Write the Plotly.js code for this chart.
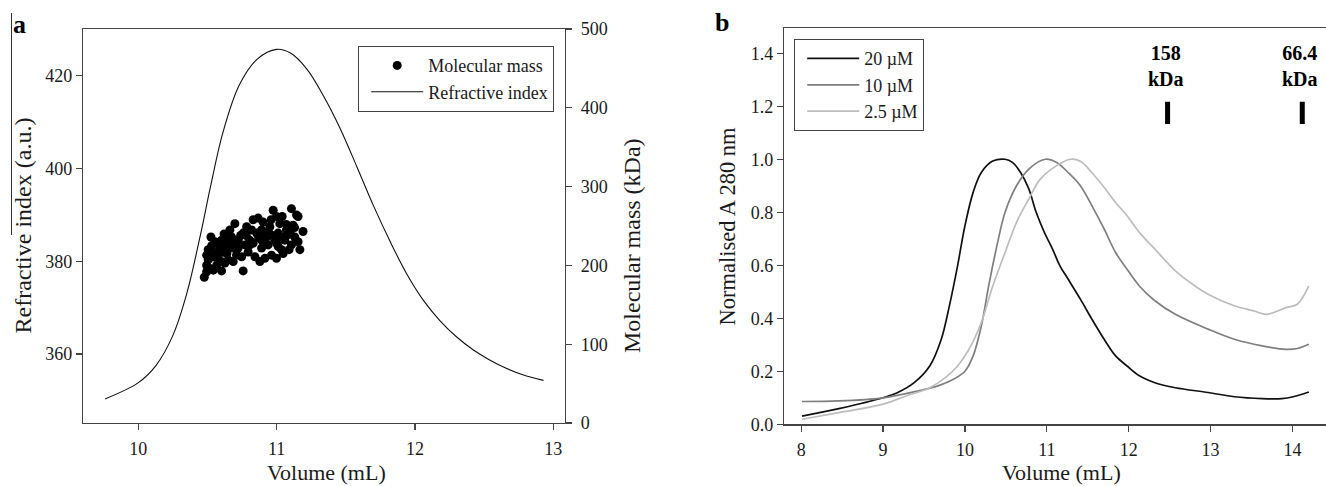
<!DOCTYPE html>
<html>
<head>
<meta charset="utf-8">
<script src="https://cdn.plot.ly/plotly-3.0.1.min.js"></script>
<style>html,body{margin:0;padding:0;background:#fff;}#chart{width:1326px;height:486px;}</style>
</head>
<body>
<div id="chart"></div>
<script>
// ---------- Panel a : refractive index trace ----------
const riVolume = [9.76, 10.0, 10.13, 10.25, 10.35, 10.45, 10.52, 10.61, 10.73, 10.86, 11.0, 11.1, 11.22, 11.34, 11.46, 11.58, 11.7, 11.82, 11.94, 12.06, 12.18, 12.3, 12.42, 12.54, 12.66, 12.78, 12.93];
const riSignal = [350.3, 353.8, 357.6, 364.0, 373.0, 385.8, 395.8, 407.6, 418.0, 423.6, 425.7, 424.9, 421.4, 415.6, 408.6, 400.4, 392.0, 384.3, 377.3, 371.6, 367.2, 363.7, 360.9, 358.7, 356.9, 355.5, 354.3];

// ---------- Panel a : molecular mass points ----------
const mmVolume = [10.477, 10.494, 10.518, 10.542, 10.602, 10.505, 10.525, 10.554, 10.578, 10.602, 10.638, 10.662, 10.698, 10.674, 10.65, 10.614, 10.578, 10.542, 10.686, 10.758, 10.747, 10.722, 10.77, 10.806, 10.83, 10.866, 10.902, 10.819, 10.855, 10.794, 10.843, 10.891, 10.927, 10.951, 10.975, 10.999, 11.023, 10.987, 10.963, 10.999, 11.035, 11.059, 11.071, 11.107, 11.144, 11.119, 11.191, 11.168, 11.107, 11.131, 11.047, 10.915, 10.879, 10.65, 10.71, 10.626, 10.566, 10.59, 10.626, 10.722, 10.758, 10.783, 10.891, 10.939, 11.011, 11.083, 11.155, 11.011, 10.891, 10.505, 10.494, 10.53, 10.494, 11.155,
                  10.56, 10.60, 10.64, 10.68, 10.70, 10.74, 10.78, 10.80, 10.83, 10.87, 10.90, 10.94, 10.97, 11.00, 11.04, 11.07, 11.10, 11.13, 11.09, 10.53, 10.62, 10.66, 10.96, 11.04];
const mmKDa = [185, 192, 196, 194, 193, 207, 236, 230, 228, 232, 239, 245, 253, 236, 224, 217, 213, 217, 205, 193, 211, 222, 226, 232, 258, 260, 255, 245, 241, 217, 211, 222, 236, 249, 270, 262, 253, 232, 213, 209, 220, 232, 245, 272, 264, 251, 243, 220, 226, 236, 215, 209, 205, 207, 213, 203, 200, 222, 228, 232, 241, 249, 245, 226, 241, 239, 230, 224, 232, 220, 213, 211, 200, 262,
               210, 205, 215, 222, 230, 238, 238, 225, 228, 235, 240, 243, 238, 228, 236, 252, 240, 248, 220, 225, 240, 233, 258, 262];

// ---------- Panel b : normalised A280 ----------
const vol20 = [8.01, 8.46, 9.0, 9.18, 9.38, 9.57, 9.71, 9.81, 9.91, 10.0, 10.1, 10.2, 10.34, 10.49, 10.58, 10.68, 10.78, 10.87, 10.97, 11.07, 11.16, 11.26, 11.41, 11.55, 11.7, 11.84, 11.98, 12.13, 12.32, 12.57, 12.97, 13.29, 13.63, 13.87, 14.01, 14.2];
const abs20 = [0.031, 0.059, 0.10, 0.12, 0.157, 0.22, 0.32, 0.447, 0.598, 0.749, 0.875, 0.95, 0.993, 1.0, 0.988, 0.95, 0.888, 0.80, 0.724, 0.661, 0.598, 0.548, 0.472, 0.397, 0.321, 0.258, 0.22, 0.183, 0.157, 0.138, 0.12, 0.104, 0.097, 0.097, 0.104, 0.122];
const vol10 = [8.01, 8.46, 9.0, 9.43, 9.67, 9.86, 10.0, 10.1, 10.2, 10.29, 10.39, 10.49, 10.63, 10.78, 10.98, 11.12, 11.26, 11.41, 11.55, 11.7, 11.84, 11.98, 12.13, 12.32, 12.57, 12.97, 13.29, 13.63, 13.92, 14.06, 14.2];
const abs10 = [0.086, 0.088, 0.10, 0.126, 0.145, 0.17, 0.2, 0.258, 0.371, 0.522, 0.673, 0.8, 0.9, 0.963, 1.0, 0.988, 0.95, 0.9, 0.825, 0.737, 0.648, 0.585, 0.522, 0.466, 0.415, 0.359, 0.321, 0.296, 0.283, 0.286, 0.302];
const vol2_5 = [8.01, 8.46, 9.0, 9.28, 9.57, 9.76, 9.91, 10.05, 10.2, 10.34, 10.49, 10.63, 10.78, 10.92, 11.12, 11.29, 11.41, 11.55, 11.7, 11.84, 11.98, 12.13, 12.32, 12.57, 12.81, 12.97, 13.29, 13.53, 13.68, 13.92, 14.06, 14.2];
const abs2_5 = [0.019, 0.044, 0.076, 0.107, 0.138, 0.176, 0.22, 0.283, 0.384, 0.522, 0.648, 0.762, 0.85, 0.925, 0.976, 1.0, 0.992, 0.95, 0.894, 0.837, 0.787, 0.724, 0.661, 0.579, 0.522, 0.491, 0.447, 0.428, 0.415, 0.44, 0.453, 0.522];

// ---------- Panel b : calibration standards ----------
const stdVolume = [12.475, 14.12];
const stdLabels = ['158<br>kDa', '66.4<br>kDa'];
const stdBarLow = 1.133, stdBarHigh = 1.217, stdLabelY = 1.35;

const serif = 'Liberation Serif, Times New Roman, serif';
const W = 1326, H = 486;
const px = v => v / W, py = v => 1 - v / H;

const stdX = [], stdY = [];
stdVolume.forEach(v => { stdX.push(v, v, null); stdY.push(stdBarLow, stdBarHigh, null); });

const traces = [
  {x: mmVolume, y: mmKDa, xaxis: 'x', yaxis: 'y2', type: 'scatter', mode: 'markers', name: 'Molecular mass',
   marker: {color: '#000', size: 9}, legend: 'legend'},
  {x: riVolume, y: riSignal, xaxis: 'x', yaxis: 'y', type: 'scatter', mode: 'lines', name: 'Refractive index',
   line: {color: '#111', width: 1.1, shape: 'spline', smoothing: 1}, legend: 'legend'},
  {x: vol20, y: abs20, xaxis: 'x3', yaxis: 'y3', type: 'scatter', mode: 'lines', name: '20 µM',
   line: {color: '#111', width: 1.7, shape: 'spline', smoothing: 1}, legend: 'legend2'},
  {x: vol10, y: abs10, xaxis: 'x3', yaxis: 'y3', type: 'scatter', mode: 'lines', name: '10 µM',
   line: {color: '#7f7f7f', width: 1.7, shape: 'spline', smoothing: 1}, legend: 'legend2'},
  {x: vol2_5, y: abs2_5, xaxis: 'x3', yaxis: 'y3', type: 'scatter', mode: 'lines', name: '2.5 µM',
   line: {color: '#bdbdbd', width: 1.7, shape: 'spline', smoothing: 1}, legend: 'legend2'},
  {x: stdX, y: stdY, xaxis: 'x3', yaxis: 'y3', type: 'scatter', mode: 'lines', showlegend: false,
   line: {color: '#000', width: 5}, hoverinfo: 'skip'}
];

const axisCommon = {
  showgrid: false, zeroline: false, showline: true, linecolor: '#444', linewidth: 1.2,
  ticks: 'outside', ticklen: 6, tickwidth: 1.2, tickcolor: '#444',
  tickfont: {family: serif, size: 18, color: '#1a1a1a'}
};

function ann(text, xp, yp, size, extra) {
  return Object.assign({text: text, x: px(xp), y: py(yp), xref: 'paper', yref: 'paper', showarrow: false,
    xanchor: 'center', yanchor: 'middle', font: {family: serif, size: size, color: '#1a1a1a'}}, extra || {});
}

const annotations = [
  ann('<b>a</b>', 19, 24, 26, {font: {family: serif, size: 26, color: '#000'}}),
  ann('<b>b</b>', 722, 22, 26, {font: {family: serif, size: 26, color: '#000'}}),
  ann('Volume (mL)', 326, 472, 22),
  ann('Volume (mL)', 1061, 472, 22),
  ann('Refractive index (a.u.)', 22.5, 226, 24, {textangle: -90}),
  ann('Molecular mass (kDa)', 632, 246, 24, {textangle: -90}),
  ann('Normalised A 280 nm', 727, 226.5, 22.5, {textangle: -90})
];
stdVolume.forEach((v, i) => annotations.push({
  text: '<b>' + stdLabels[i].replace('<br>', '</b><br><b>') + '</b>', x: v, y: stdLabelY, xref: 'x3', yref: 'y3',
  xanchor: 'center', yanchor: 'middle',
  showarrow: false, xshift: -2, font: {family: serif, size: 20, color: '#000'}
}));

const legendCommon = {xanchor: 'left', yanchor: 'top', bgcolor: '#fff', bordercolor: '#444', borderwidth: 1.2,
  font: {family: serif, size: 18, color: '#1a1a1a'}, tracegroupgap: 0, itemwidth: 52, indentation: 7};

const layout = {
  width: W, height: H, margin: {l: 0, r: 0, t: 0, b: 0},
  paper_bgcolor: '#fff', plot_bgcolor: '#fff', showlegend: true,
  font: {family: serif, color: '#1a1a1a'},
  xaxis: Object.assign({}, axisCommon, {domain: [px(83), px(565)], range: [9.6, 13.085], tickvals: [10, 11, 12, 13], mirror: true, anchor: 'y', ticklabelstandoff: 3}),
  yaxis: Object.assign({}, axisCommon, {domain: [py(423), py(29)], range: [345.1, 430.1], tickvals: [360, 380, 400, 420], anchor: 'x'}),
  yaxis2: Object.assign({}, axisCommon, {overlaying: 'y', side: 'right', anchor: 'x', range: [0, 500], tickvals: [0, 100, 200, 300, 400, 500], ticklabelstandoff: 5}),
  xaxis3: Object.assign({}, axisCommon, {domain: [px(784), 1], range: [7.79, 14.41], tickvals: [8, 9, 10, 11, 12, 13, 14], mirror: true, anchor: 'y3', ticklabelstandoff: 3}),
  yaxis3: Object.assign({}, axisCommon, {domain: [py(424.3), py(28.3)], range: [0, 1.494], tickvals: [0, 0.2, 0.4, 0.6, 0.8, 1.0, 1.2, 1.4], tickformat: '.1f', anchor: 'x3'}),
  legend: Object.assign({}, legendCommon, {x: px(358), y: py(46)}),
  legend2: Object.assign({}, legendCommon, {x: px(794), y: py(39)}),
  shapes: [
    {type: 'line', xref: 'paper', yref: 'paper', x0: px(11.5), x1: px(11.5), y0: py(13), y1: py(235), line: {color: '#333', width: 1}}
  ],
  annotations: annotations
};

Plotly.newPlot('chart', traces, layout, {displayModeBar: false, staticPlot: true});
</script>
</body>
</html>
